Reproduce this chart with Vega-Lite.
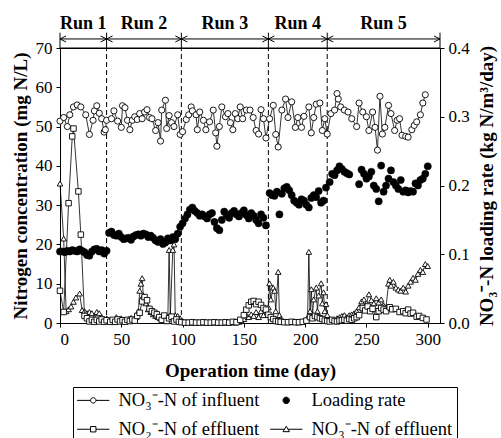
{
"$schema":"https://vega.github.io/schema/vega-lite/v6.json",
"width":380,"height":275,
"autosize":{"type":"none"},
"padding":{"left":60,"top":48,"right":61,"bottom":115},
"config":{
 "font":"Liberation Serif",
 "view":{"stroke":"black","strokeWidth":1},
 "axis":{"grid":false,"domainColor":"black","tickColor":"black","labelColor":"black","titleColor":"black","labelFont":"Liberation Serif","titleFont":"Liberation Serif","labelFontSize":17,"titleFontSize":19,"titleFontWeight":"bold","tickSize":4,"labelPadding":4},
 "legend":{"labelFont":"Liberation Serif","labelFontSize":18.5,"labelColor":"black"}
},
"datasets":{
"inf":[{"d":0,"v":51.4},{"d":3,"v":52.3},{"d":6,"v":50},{"d":8,"v":53},{"d":11,"v":55},{"d":14,"v":55.5},{"d":17,"v":55},{"d":21,"v":53},{"d":24,"v":48},{"d":27,"v":51.6},{"d":28,"v":54},{"d":30,"v":55.3},{"d":32,"v":53.4},{"d":34,"v":52},{"d":36,"v":48.6},{"d":37,"v":49.2},{"d":38,"v":51.6},{"d":42,"v":52},{"d":44,"v":54},{"d":47,"v":51.4},{"d":50,"v":49.8},{"d":51,"v":55.3},{"d":53,"v":54.8},{"d":55,"v":51.6},{"d":57,"v":49.2},{"d":59,"v":51.6},{"d":61,"v":52.5},{"d":63,"v":51.8},{"d":65,"v":53.3},{"d":67,"v":52},{"d":69,"v":53.7},{"d":71,"v":54.3},{"d":73,"v":52.3},{"d":75,"v":52},{"d":78,"v":49},{"d":80,"v":51},{"d":82,"v":46.3},{"d":83,"v":54.2},{"d":86,"v":56.7},{"d":87,"v":49.5},{"d":89,"v":52.8},{"d":91,"v":51},{"d":93,"v":50},{"d":96,"v":53},{"d":98,"v":48},{"d":100,"v":48.7},{"d":103,"v":51.8},{"d":105,"v":53},{"d":107,"v":55},{"d":108,"v":54},{"d":111,"v":53},{"d":112,"v":49.2},{"d":114,"v":53.7},{"d":117,"v":51.6},{"d":119,"v":49.2},{"d":122,"v":51.2},{"d":125,"v":54.2},{"d":127,"v":48.4},{"d":128,"v":45},{"d":130,"v":50},{"d":132,"v":55},{"d":135,"v":52.5},{"d":137,"v":53.3},{"d":139,"v":51},{"d":141,"v":49.2},{"d":143,"v":53.3},{"d":145,"v":52},{"d":147,"v":55},{"d":149,"v":52},{"d":152,"v":54.2},{"d":155,"v":54.2},{"d":157.6,"v":52.3},{"d":160,"v":49},{"d":162,"v":48.1},{"d":164,"v":54.3},{"d":166,"v":52},{"d":168,"v":47.1},{"d":171,"v":52},{"d":174,"v":55.4},{"d":176,"v":48},{"d":178,"v":44.8},{"d":181,"v":54.2},{"d":184,"v":57},{"d":186,"v":52.3},{"d":189,"v":56.3},{"d":192,"v":49.8},{"d":194,"v":52.3},{"d":197,"v":49.8},{"d":199,"v":52.6},{"d":203,"v":55},{"d":205,"v":48.4},{"d":207,"v":52.3},{"d":209,"v":55.7},{"d":212,"v":56},{"d":214,"v":49},{"d":216,"v":52},{"d":218,"v":48.1},{"d":221,"v":53.3},{"d":224,"v":54.2},{"d":226,"v":58.4},{"d":227,"v":57},{"d":229,"v":55},{"d":232,"v":54.2},{"d":235,"v":53.7},{"d":238,"v":52},{"d":242,"v":50},{"d":244,"v":56},{"d":247,"v":53.7},{"d":250,"v":52.5},{"d":252,"v":49},{"d":255,"v":53.7},{"d":257,"v":49.8},{"d":259,"v":44},{"d":261,"v":57.7},{"d":263,"v":48.1},{"d":265,"v":49.8},{"d":268,"v":55.4},{"d":270,"v":53.3},{"d":273,"v":49},{"d":275,"v":51.6},{"d":277,"v":52},{"d":279,"v":47.8},{"d":282,"v":47.5},{"d":284,"v":47.3},{"d":287,"v":49.2},{"d":289,"v":50.3},{"d":291,"v":51.2},{"d":294,"v":53},{"d":296,"v":56},{"d":298,"v":58.1}],
"load":[{"d":0,"v":0.104},{"d":2,"v":0.104},{"d":4,"v":0.103},{"d":6,"v":0.105},{"d":8,"v":0.104},{"d":10,"v":0.106},{"d":12,"v":0.105},{"d":14,"v":0.104},{"d":16,"v":0.107},{"d":18,"v":0.105},{"d":20,"v":0.103},{"d":22,"v":0.099},{"d":24,"v":0.098},{"d":26,"v":0.104},{"d":28,"v":0.107},{"d":30,"v":0.108},{"d":32,"v":0.104},{"d":34,"v":0.106},{"d":36,"v":0.101},{"d":38,"v":0.105},{"d":40,"v":0.131},{"d":42,"v":0.133},{"d":44,"v":0.128},{"d":46,"v":0.127},{"d":48,"v":0.13},{"d":50,"v":0.125},{"d":52,"v":0.122},{"d":54,"v":0.123},{"d":56,"v":0.124},{"d":58,"v":0.121},{"d":60,"v":0.126},{"d":62,"v":0.128},{"d":64,"v":0.129},{"d":66,"v":0.127},{"d":68,"v":0.13},{"d":70,"v":0.129},{"d":72,"v":0.125},{"d":74,"v":0.127},{"d":76,"v":0.124},{"d":78,"v":0.12},{"d":80,"v":0.118},{"d":82,"v":0.122},{"d":84,"v":0.115},{"d":86,"v":0.117},{"d":88,"v":0.123},{"d":90,"v":0.12},{"d":92,"v":0.125},{"d":94,"v":0.122},{"d":96,"v":0.13},{"d":98,"v":0.14},{"d":100,"v":0.145},{"d":102,"v":0.152},{"d":104,"v":0.158},{"d":106,"v":0.165},{"d":108,"v":0.168},{"d":110,"v":0.163},{"d":112,"v":0.16},{"d":114,"v":0.156},{"d":116,"v":0.158},{"d":118,"v":0.155},{"d":120,"v":0.152},{"d":122,"v":0.158},{"d":124,"v":0.16},{"d":126,"v":0.147},{"d":128,"v":0.138},{"d":130,"v":0.135},{"d":132,"v":0.15},{"d":134,"v":0.162},{"d":136,"v":0.157},{"d":138,"v":0.153},{"d":140,"v":0.16},{"d":142,"v":0.163},{"d":144,"v":0.158},{"d":146,"v":0.155},{"d":148,"v":0.16},{"d":150,"v":0.164},{"d":152,"v":0.157},{"d":154,"v":0.152},{"d":156,"v":0.16},{"d":158,"v":0.156},{"d":160,"v":0.15},{"d":162,"v":0.145},{"d":164,"v":0.158},{"d":166,"v":0.153},{"d":168,"v":0.142},{"d":171,"v":0.189},{"d":173,"v":0.186},{"d":175,"v":0.185},{"d":177,"v":0.191},{"d":179,"v":0.158},{"d":181,"v":0.188},{"d":183,"v":0.196},{"d":185,"v":0.198},{"d":187,"v":0.193},{"d":189,"v":0.186},{"d":191,"v":0.178},{"d":193,"v":0.175},{"d":195,"v":0.172},{"d":197,"v":0.18},{"d":199,"v":0.178},{"d":201,"v":0.172},{"d":203,"v":0.168},{"d":205,"v":0.182},{"d":207,"v":0.186},{"d":209,"v":0.183},{"d":211,"v":0.192},{"d":213,"v":0.175},{"d":215,"v":0.178},{"d":217,"v":0.197},{"d":220,"v":0.205},{"d":222,"v":0.217},{"d":224,"v":0.215},{"d":226,"v":0.222},{"d":228,"v":0.228},{"d":230,"v":0.224},{"d":232,"v":0.22},{"d":234,"v":0.218},{"d":236,"v":0.216},{"d":244,"v":0.202},{"d":246,"v":0.223},{"d":248,"v":0.217},{"d":250,"v":0.21},{"d":252,"v":0.213},{"d":254,"v":0.22},{"d":256,"v":0.2},{"d":258,"v":0.195},{"d":260,"v":0.177},{"d":262,"v":0.229},{"d":264,"v":0.191},{"d":266,"v":0.2},{"d":268,"v":0.21},{"d":270,"v":0.222},{"d":272,"v":0.205},{"d":274,"v":0.2},{"d":276,"v":0.195},{"d":278,"v":0.208},{"d":280,"v":0.191},{"d":282,"v":0.193},{"d":284,"v":0.19},{"d":286,"v":0.192},{"d":288,"v":0.191},{"d":290,"v":0.203},{"d":292,"v":0.2},{"d":294,"v":0.208},{"d":296,"v":0.21},{"d":298,"v":0.217},{"d":300,"v":0.228}],
"no2":[{"d":0,"v":8.2},{"d":3,"v":2.8},{"d":7,"v":30.5},{"d":10,"v":47.5},{"d":11,"v":49.5},{"d":15,"v":33.5},{"d":17,"v":22.5},{"d":20,"v":1.8},{"d":22,"v":1.2},{"d":24,"v":0.4},{"d":26,"v":0.8},{"d":28,"v":0.3},{"d":30,"v":0.8},{"d":32,"v":0.4},{"d":34,"v":0.9},{"d":36,"v":0.3},{"d":38,"v":0.7},{"d":41,"v":0.3},{"d":43,"v":0.8},{"d":45,"v":0.3},{"d":47,"v":0.9},{"d":49,"v":0.4},{"d":51,"v":0.7},{"d":53,"v":0.3},{"d":55,"v":0.8},{"d":57,"v":0.5},{"d":59,"v":0.9},{"d":61,"v":0.6},{"d":63,"v":1.8},{"d":65,"v":2.6},{"d":67,"v":5.5},{"d":69,"v":6.6},{"d":71,"v":5.8},{"d":73,"v":3.6},{"d":75,"v":3},{"d":77,"v":2.6},{"d":79,"v":2.2},{"d":81,"v":1.5},{"d":83,"v":0.8},{"d":85,"v":1.9},{"d":87,"v":0.5},{"d":89,"v":1.2},{"d":91,"v":1.6},{"d":93,"v":0.4},{"d":95,"v":0.9},{"d":97,"v":0.3},{"d":99,"v":0.2},{"d":102,"v":0.1},{"d":105,"v":0.1},{"d":108,"v":0.2},{"d":111,"v":0.1},{"d":114,"v":0.1},{"d":117,"v":0.2},{"d":120,"v":0.1},{"d":123,"v":0.1},{"d":126,"v":0.2},{"d":129,"v":0.1},{"d":132,"v":0.1},{"d":135,"v":0.2},{"d":138,"v":0.1},{"d":141,"v":0.3},{"d":144,"v":0.2},{"d":147,"v":0.8},{"d":150,"v":2},{"d":152,"v":3.4},{"d":154,"v":4.5},{"d":156,"v":5.4},{"d":158,"v":5.6},{"d":160,"v":4.8},{"d":162,"v":5.4},{"d":164,"v":4.6},{"d":166,"v":3.8},{"d":168,"v":3.4},{"d":170,"v":2.1},{"d":172,"v":1.5},{"d":174,"v":1},{"d":176,"v":0.5},{"d":178,"v":0.4},{"d":180,"v":0.3},{"d":183,"v":0.2},{"d":186,"v":0.2},{"d":189,"v":0.3},{"d":192,"v":0.2},{"d":195,"v":0.2},{"d":198,"v":0.3},{"d":201,"v":0.6},{"d":204,"v":1.5},{"d":206,"v":1.2},{"d":208,"v":1.8},{"d":210,"v":1.5},{"d":212,"v":1.2},{"d":214,"v":1},{"d":216,"v":0.6},{"d":218,"v":0.5},{"d":220,"v":0.4},{"d":222,"v":0.8},{"d":224,"v":0.5},{"d":226,"v":0.4},{"d":228,"v":0.6},{"d":230,"v":0.7},{"d":232,"v":0.8},{"d":234,"v":0.6},{"d":236,"v":1},{"d":238,"v":0.8},{"d":240,"v":1.2},{"d":242,"v":1.5},{"d":244,"v":2},{"d":247,"v":3.8},{"d":249,"v":3.2},{"d":251,"v":4.2},{"d":253,"v":3},{"d":255,"v":3.6},{"d":258,"v":1.5},{"d":260,"v":3},{"d":262,"v":3.8},{"d":264,"v":3.4},{"d":266,"v":3},{"d":269,"v":4},{"d":271,"v":3.5},{"d":274,"v":3.6},{"d":277,"v":2.8},{"d":280,"v":3},{"d":282,"v":2.5},{"d":284,"v":3.4},{"d":286,"v":2.4},{"d":288,"v":2.6},{"d":291,"v":1.6},{"d":293,"v":1.8},{"d":296,"v":1.3},{"d":299,"v":0.9}],
"no3":[{"d":0,"v":35.5},{"d":3,"v":21.5},{"d":5,"v":3},{"d":7,"v":3.5},{"d":9,"v":4.2},{"d":11,"v":5.4},{"d":13,"v":6.5},{"d":16,"v":7.5},{"d":18,"v":3.3},{"d":20,"v":3},{"d":22,"v":2.5},{"d":24,"v":2.8},{"d":26,"v":2.5},{"d":28,"v":1.5},{"d":30,"v":2.8},{"d":32,"v":2.5},{"d":34,"v":1.5},{"d":36,"v":1},{"d":38,"v":1.2},{"d":40,"v":0.5},{"d":42,"v":0.3},{"d":44,"v":0.8},{"d":46,"v":1.5},{"d":48,"v":1},{"d":50,"v":1.2},{"d":52,"v":0.8},{"d":54,"v":0.6},{"d":56,"v":1},{"d":58,"v":1.3},{"d":60,"v":0.8},{"d":62,"v":1.5},{"d":64,"v":3},{"d":65,"v":8.2},{"d":66,"v":10},{"d":67,"v":11.4},{"d":68,"v":7},{"d":70,"v":5},{"d":72,"v":3.5},{"d":74,"v":2.8},{"d":76,"v":2.2},{"d":78,"v":1.8},{"d":80,"v":1.5},{"d":82,"v":1.2},{"d":84,"v":1.5},{"d":86,"v":1.8},{"d":88,"v":1.5},{"d":89,"v":18.6},{"d":90,"v":2},{"d":92,"v":18.6},{"d":93,"v":20},{"d":94,"v":2},{"d":96,"v":1.8},{"d":98,"v":1.2},{"d":100,"v":0.5},{"d":102,"v":0.2},{"d":104,"v":0.1},{"d":107,"v":0.2},{"d":110,"v":0.1},{"d":113,"v":0.1},{"d":116,"v":0.2},{"d":119,"v":0.1},{"d":122,"v":0.1},{"d":125,"v":0.2},{"d":128,"v":0.1},{"d":131,"v":0.1},{"d":134,"v":0.2},{"d":137,"v":0.1},{"d":140,"v":0.2},{"d":143,"v":0.1},{"d":146,"v":0.3},{"d":148,"v":0.5},{"d":150,"v":1},{"d":152,"v":2},{"d":154,"v":1.5},{"d":156,"v":2.2},{"d":158,"v":1.8},{"d":160,"v":2.8},{"d":162,"v":1.5},{"d":164,"v":3},{"d":166,"v":2},{"d":168,"v":3.5},{"d":170,"v":4},{"d":171,"v":10.1},{"d":172,"v":6},{"d":174,"v":9},{"d":175,"v":8.2},{"d":176,"v":3},{"d":178,"v":13},{"d":179,"v":2},{"d":180,"v":1},{"d":182,"v":0.5},{"d":185,"v":0.3},{"d":188,"v":0.2},{"d":191,"v":0.3},{"d":194,"v":0.2},{"d":197,"v":0.3},{"d":200,"v":0.5},{"d":202,"v":1.5},{"d":203,"v":18.1},{"d":204,"v":3},{"d":205,"v":8.6},{"d":206,"v":2},{"d":207,"v":6},{"d":209,"v":9},{"d":210,"v":3},{"d":211,"v":7},{"d":213,"v":10.1},{"d":214,"v":5},{"d":215,"v":7.8},{"d":216,"v":3},{"d":217,"v":4.8},{"d":218,"v":2},{"d":220,"v":1},{"d":222,"v":0.8},{"d":224,"v":0.5},{"d":226,"v":1.2},{"d":228,"v":1.5},{"d":230,"v":1.8},{"d":232,"v":2},{"d":234,"v":1.5},{"d":236,"v":2},{"d":238,"v":2.2},{"d":240,"v":2.5},{"d":242,"v":3},{"d":244,"v":4},{"d":246,"v":5.5},{"d":248,"v":6},{"d":250,"v":5},{"d":252,"v":7.3},{"d":254,"v":5.8},{"d":256,"v":5},{"d":258,"v":6.3},{"d":260,"v":5.2},{"d":262,"v":6},{"d":264,"v":4.5},{"d":266,"v":4},{"d":268,"v":10},{"d":269,"v":11},{"d":270,"v":9.5},{"d":272,"v":10.5},{"d":274,"v":9},{"d":276,"v":8.5},{"d":278,"v":8.2},{"d":280,"v":9},{"d":282,"v":8},{"d":284,"v":9.5},{"d":286,"v":10.5},{"d":288,"v":11.5},{"d":290,"v":11},{"d":292,"v":12.5},{"d":294,"v":13.5},{"d":296,"v":13},{"d":298,"v":15},{"d":300,"v":14.5}]
},
"encoding":{"x":{"field":"d","type":"quantitative","scale":{"domain":[0,310],"nice":false,"zero":false},"axis":{"values":[0,50,100,150,200,250,300],"title":"Operation time (day)","titlePadding":14,"labelFont":"Liberation Serif"}}},
"layer":[
 {"encoding":{"y":{"field":"v","type":"quantitative","scale":{"domain":[0,70],"nice":false},"axis":{"values":[0,10,20,30,40,50,60,70],"title":"Nitrogen concentration (mg N/L)","titlePadding":5,"labelFont":"Liberation Serif"}}},
  "layer":[
   {"data":{"values":[{"d":38,"v":0,"v2":70},{"d":99,"v":0,"v2":70},{"d":170,"v":0,"v2":70},{"d":218,"v":0,"v2":70}]},"mark":{"type":"rule","stroke":"black","strokeWidth":1,"strokeDash":[5,3]},"encoding":{"y2":{"field":"v2"}}},
   {"data":{"values":[{"d":0,"v":70,"v2":73.9},{"d":38,"v":70,"v2":73.9},{"d":99,"v":70,"v2":73.9},{"d":170,"v":70,"v2":73.9},{"d":218,"v":70,"v2":73.9},{"d":310,"v":70,"v2":73.9}]},"mark":{"type":"rule","stroke":"black","strokeWidth":1},"encoding":{"y2":{"field":"v2"}}},
   {"data":{"values":[{"d":0,"d2":310,"v":72.3},{"d":0,"d2":310,"v":70}]},"mark":{"type":"rule","stroke":"black","strokeWidth":1},"encoding":{"x2":{"field":"d2"}}},
   {"data":{"values":[{"d":38,"v":72.3},{"d":99,"v":72.3},{"d":170,"v":72.3},{"d":218,"v":72.3},{"d":310,"v":72.3}]},"mark":{"type":"point","shape":"M-2,-1L0,0L-2,1","size":36,"filled":false,"stroke":"black","strokeWidth":1,"opacity":1}},
   {"data":{"values":[{"d":0,"v":72.3},{"d":38,"v":72.3},{"d":99,"v":72.3},{"d":170,"v":72.3},{"d":218,"v":72.3}]},"mark":{"type":"point","shape":"M2,-1L0,0L2,1","size":36,"filled":false,"stroke":"black","strokeWidth":1,"opacity":1}},
   {"data":{"values":[{"d":19,"v":76.0,"t":"Run 1"},{"d":68.5,"v":76.0,"t":"Run 2"},{"d":134.5,"v":76.0,"t":"Run 3"},{"d":194,"v":76.0,"t":"Run 4"},{"d":264,"v":76.0,"t":"Run 5"}]},"mark":{"type":"text","font":"Liberation Serif","fontWeight":"bold","fontSize":18,"fill":"black","baseline":"middle","align":"center"},"encoding":{"text":{"field":"t"}}},
   {"data":{"name":"inf"},"mark":{"type":"line","stroke":"black","strokeWidth":0.8}},
   {"data":{"name":"inf"},"mark":{"type":"point","shape":"circle","size":38,"filled":true,"fill":"white","stroke":"black","strokeWidth":0.9,"opacity":1}},
   {"data":{"name":"no3"},"mark":{"type":"line","stroke":"black","strokeWidth":0.8}},
   {"data":{"name":"no3"},"mark":{"type":"point","shape":"triangle-up","size":32,"filled":true,"fill":"white","stroke":"black","strokeWidth":0.9,"opacity":1}},
   {"data":{"name":"no2"},"mark":{"type":"line","stroke":"black","strokeWidth":0.8}},
   {"data":{"name":"no2"},"mark":{"type":"point","shape":"square","size":30,"filled":true,"fill":"white","stroke":"black","strokeWidth":0.9,"opacity":1}},
   {"data":{"values":[{"s":"NO₃⁻-N of influent","d":-100,"v":10},{"s":"Loading rate","d":-100,"v":10},{"s":"NO₂⁻-N of effluent","d":-100,"v":10},{"s":"NO₃⁻-N of effluent","d":-100,"v":10}]},
    "mark":{"type":"point","clip":true,"strokeWidth":1,"opacity":1},
    "encoding":{
     "shape":{"field":"s","type":"nominal","scale":{"domain":["NO₃⁻-N of influent","NO₂⁻-N of effluent","Loading rate","NO₃⁻-N of effluent"],"range":["M-6,0H-1M1,0H6M1,0A1,1,0,1,1,-1,0A1,1,0,1,1,1,0Z","M-6,0H-1M1,0H6M-1,-1H1V1H-1Z","M1.2,0A1.2,1.2,0,1,1,-1.2,0A1.2,1.2,0,1,1,1.2,0Z","M-6,0H-0.66M0.66,0H6M0,-1.1L1.2,0.9H-1.2Z"]},
      "legend":{"title":null,"orient":"none","legendX":13,"legendY":339,"columns":2,"strokeColor":"black","padding":4,"symbolSize":29,"labelOffset":16,"symbolOffset":7,"columnPadding":8,"rowPadding":10,"symbolStrokeWidth":1}},
     "fill":{"field":"s","type":"nominal","scale":{"domain":["NO₃⁻-N of influent","NO₂⁻-N of effluent","Loading rate","NO₃⁻-N of effluent"],"range":["white","white","black","white"]}},
     "stroke":{"field":"s","type":"nominal","scale":{"domain":["NO₃⁻-N of influent","NO₂⁻-N of effluent","Loading rate","NO₃⁻-N of effluent"],"range":["black","black","black","black"]}}
    }}
  ]},
 {"layer":[
   {"data":{"name":"load"},"mark":{"type":"point","shape":"circle","size":52,"filled":true,"fill":"black","stroke":"black","strokeWidth":0.5,"opacity":1},
    "encoding":{"y":{"field":"v","type":"quantitative","scale":{"domain":[0,0.4],"nice":false},"axis":{"orient":"right","values":[0,0.1,0.2,0.3,0.4],"format":".1f","title":"NO₃⁻-N loading rate (kg N/m³/day)","titleAngle":270,"titleBaseline":"top","titlePadding":8,"labelFont":"Liberation Serif"}}}}
 ]}
],
"resolve":{"scale":{"y":"independent"}}
}
